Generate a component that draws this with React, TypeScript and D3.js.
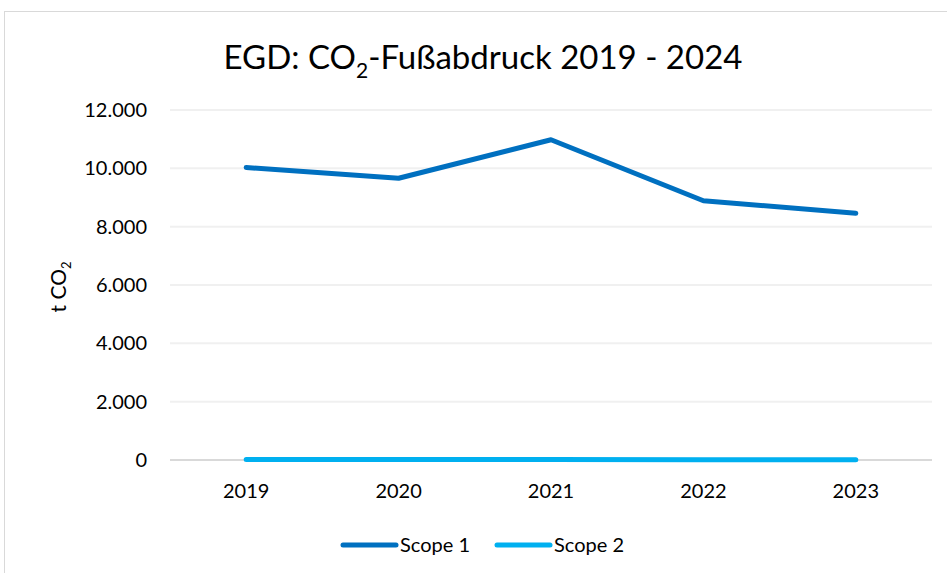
import * as d3 from "d3";
import { useEffect, useRef } from "react";

const width = 947;
const height = 573;

const years = ["2019", "2020", "2021", "2022", "2023"];
const scope1 = [10030, 9660, 10980, 8890, 8460];
const scope2 = [15, 15, 15, 12, 12];
const yTicks = [0, 2000, 4000, 6000, 8000, 10000, 12000];

const margin = { top: 110, right: 15, bottom: 113, left: 170 };
const font = "Lato, 'Open Sans', sans-serif";

const fmt = (v: number) => d3.format(",")(v).replace(/,/g, ".");

const App = () => {
  const ref = useRef<SVGSVGElement>(null);

  useEffect(() => {
    const svg = d3.select(ref.current);
    svg.selectAll("*").remove();

    // chart frame
    svg.append("rect")
      .attr("x", 4.5).attr("y", 11.5)
      .attr("width", 960).attr("height", 600)
      .attr("fill", "#fff")
      .attr("stroke", "#d9d9d9");

    const x = d3.scaleBand().domain(years).range([margin.left, width - margin.right]);
    const y = d3.scaleLinear().domain([0, 12000]).range([height - margin.bottom, margin.top]);

    // gridlines
    svg.append("g")
      .selectAll("line")
      .data(yTicks)
      .join("line")
      .attr("x1", margin.left).attr("x2", width - margin.right)
      .attr("y1", d => y(d)).attr("y2", d => y(d))
      .attr("stroke", d => d === 0 ? "#d9d9d9" : "#f0f0f0")
      .attr("stroke-width", 2);

    // y tick labels
    svg.append("g")
      .selectAll("text")
      .data(yTicks)
      .join("text")
      .attr("x", 147)
      .attr("y", d => y(d))
      .attr("dy", "0.35em")
      .attr("text-anchor", "end")
      .attr("font-family", font)
      .attr("font-size", 20)
      .attr("fill", "#000")
      .text(d => fmt(d));

    // x tick labels
    svg.append("g")
      .selectAll("text")
      .data(years)
      .join("text")
      .attr("x", d => x(d)! + x.bandwidth() / 2)
      .attr("y", 498)
      .attr("text-anchor", "middle")
      .attr("font-family", font)
      .attr("font-size", 20)
      .attr("fill", "#000")
      .text(d => d);

    // y axis title
    const yt = svg.append("text")
      .attr("transform", "translate(66,287) rotate(-90)")
      .attr("text-anchor", "middle")
      .attr("font-family", font)
      .attr("font-size", 21)
      .attr("fill", "#000");
    yt.append("tspan").text("t CO");
    yt.append("tspan").attr("font-size", 13).attr("dy", 5).text("2");

    // title
    const t = svg.append("text")
      .attr("x", 483).attr("y", 69)
      .attr("text-anchor", "middle")
      .attr("font-family", font)
      .attr("font-size", 33)
      .attr("fill", "#000");
    t.append("tspan").text("EGD: CO");
    t.append("tspan").attr("font-size", 21).attr("dy", 9).text("2");
    t.append("tspan").attr("dy", -9).text("-Fußabdruck 2019 - 2024");

    const line = d3.line<number>()
      .x((_, i) => x(years[i])! + x.bandwidth() / 2)
      .y(d => y(d));

    const series = [
      { name: "Scope 1", values: scope1, color: "#0070C0" },
      { name: "Scope 2", values: scope2, color: "#00B0F0" },
    ];

    series.slice().reverse().forEach(s => {
      svg.append("path")
        .datum(s.values)
        .attr("d", line)
        .attr("fill", "none")
        .attr("stroke", s.color)
        .attr("stroke-width", 5)
        .attr("stroke-linecap", "round")
        .attr("stroke-linejoin", "round");
    });

    // legend
    const legendX = [343, 497];
    const lg = svg.append("g")
      .selectAll("g")
      .data(series)
      .join("g")
      .attr("transform", (_, i) => `translate(${legendX[i]},545)`);
    lg.append("line")
      .attr("x1", 0).attr("x2", 53)
      .attr("stroke", d => d.color)
      .attr("stroke-width", 5)
      .attr("stroke-linecap", "round");
    lg.append("text")
      .attr("x", 57)
      .attr("dy", "0.35em")
      .attr("font-family", font)
      .attr("font-size", 20)
      .attr("fill", "#000")
      .text(d => d.name);
  }, []);

  return (
    <svg
      ref={ref}
      width={width}
      height={height}
      style={{ position: "absolute", left: 0, top: 0, background: "#fff" }}
    />
  );
};

export default App;
